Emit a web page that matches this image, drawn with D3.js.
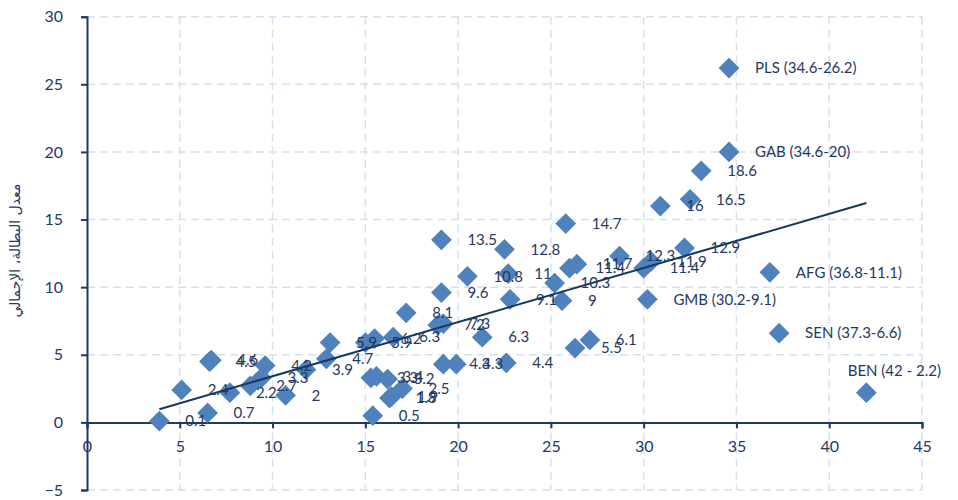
<!DOCTYPE html>
<html>
<head>
<meta charset="utf-8">
<script src="https://cdn.jsdelivr.net/npm/d3@7"></script>
<style>
  body { margin: 0; background: #fff; }
</style>
</head>
<body>
<div id="chart"></div>
<script>
// Data (x, unemployment rate y)
const xVals = [3.9, 5.1, 6.6, 6.7, 6.5, 7.7, 8.8, 9.4, 9.6, 10.7, 11.8, 12.9, 13.1, 15.0, 15.5, 16.5,
  17.2, 18.9, 19.2, 21.3, 19.2, 19.9, 22.6, 15.3, 15.6, 16.2, 17.0, 16.3, 16.4, 15.4,
  19.1, 22.5, 20.5, 22.7, 19.1, 22.8, 25.2, 25.6, 25.8, 26.0, 26.4, 28.7, 30.2, 30.0,
  30.4, 30.9, 32.5, 33.1, 32.2, 34.6, 34.6, 36.8, 37.3, 42, 26.3, 27.1];
const yVals = [0.1, 2.4, 4.5, 4.6, 0.7, 2.2, 2.7, 3.3, 4.2, 2, 3.9, 4.7, 5.9, 5.9, 6.2, 6.3,
  8.1, 7.2, 7.3, 6.3, 4.3, 4.3, 4.4, 3.3, 3.4, 3.2, 2.5, 1.8, 1.9, 0.5,
  13.5, 12.8, 10.8, 11, 9.6, 9.1, 10.3, 9, 14.7, 11.4, 11.7, 12.3, 9.1, 11.4,
  11.9, 16, 16.5, 18.6, 12.9, 20, 26.2, 11.1, 6.6, 2.2, 5.5, 6.1];
// Named outliers: index into the arrays above -> label text
const namedIdx = [42, 49, 50, 51, 52, 53];
const namedText = ["GMB (30.2-9.1)", "GAB (34.6-20)", "PLS (34.6-26.2)",
  "AFG (36.8-11.1)", "SEN (37.3-6.6)", "BEN (42 - 2.2)"];

const xTicks = [0, 5, 10, 15, 20, 25, 30, 35, 40, 45];
const yTicks = [-5, 0, 5, 10, 15, 20, 25, 30];
const yTitle = "معدل البطالة، الإجمالي";

const width = 958, height = 500;
const navy = "#1f3864";
const font = "Lato, 'Open Sans', sans-serif";

const svg = d3.select("#chart").append("svg")
    .attr("width", width)
    .attr("height", height);

const x = d3.scaleLinear().domain([0, 45]).range([87, 922]);
const y = d3.scaleLinear().domain([-5, 30]).range([490, 16.7]);

// dashed grid
svg.append("g")
    .selectAll("line")
    .data(xTicks.filter(d => d > 0))
    .enter().append("line")
    .attr("x1", d => x(d)).attr("x2", d => x(d))
    .attr("y1", y(30)).attr("y2", y(-5))
    .attr("stroke", "#d6e0ee").attr("stroke-width", 1.5)
    .attr("stroke-dasharray", "8,5");

svg.append("g")
    .selectAll("line")
    .data(yTicks.filter(d => d !== 0))
    .enter().append("line")
    .attr("x1", x(0)).attr("x2", x(45))
    .attr("y1", d => y(d)).attr("y2", d => y(d))
    .attr("stroke", "#d6e0ee").attr("stroke-width", 1.5)
    .attr("stroke-dasharray", "8,5");

// axes
const yAxis = svg.append("g")
    .attr("transform", `translate(${x(0)},0)`)
    .call(d3.axisLeft(y).tickValues(yTicks).tickSize(6).tickPadding(18));
const xAxis = svg.append("g")
    .attr("transform", `translate(0,${y(0)})`)
    .call(d3.axisBottom(x).tickValues(xTicks).tickSize(6).tickPadding(12));

[xAxis, yAxis].forEach(g => {
    g.select(".domain").attr("stroke", navy).attr("stroke-width", 2);
    g.selectAll(".tick line").attr("stroke", navy).attr("stroke-width", 2);
    g.selectAll(".tick text")
        .attr("fill", navy)
        .style("font-family", font)
        .style("font-size", "16px");
});

// y title
svg.append("text")
    .attr("transform", `translate(20,${y(12.7)}) rotate(-90)`)
    .attr("text-anchor", "middle")
    .attr("fill", navy)
    .style("font-family", "'DejaVu Sans', sans-serif")
    .style("font-size", "14px")
    .text(yTitle);

// linear trend line (least squares over all points)
const n = xVals.length;
const mx = d3.mean(xVals), my = d3.mean(yVals);
let sxy = 0, sxx = 0;
for (let i = 0; i < n; i++) {
    sxy += (xVals[i] - mx) * (yVals[i] - my);
    sxx += (xVals[i] - mx) * (xVals[i] - mx);
}
const slope = sxy / sxx, icpt = my - slope * mx;
const [xmin, xmax] = d3.extent(xVals);

// points
const pts = xVals.map((d, i) => ({ x: d, y: yVals[i], i }));

svg.append("g")
    .selectAll("path")
    .data(pts)
    .enter().append("path")
    .attr("d", d3.symbol(d3.symbolSquare, 215))
    .attr("transform", d => `translate(${x(d.x)},${y(d.y)}) rotate(45)`)
    .attr("fill", "#4f81bd");

svg.append("line")
    .attr("x1", x(xmin)).attr("y1", y(slope * xmin + icpt))
    .attr("x2", x(xmax)).attr("y2", y(slope * xmax + icpt))
    .attr("stroke", "#17375e").attr("stroke-width", 2);

// data labels: to the right of the marker, above it when near the right edge
const nearEdge = d => x(d.x) > 850;
svg.append("g")
    .selectAll("text")
    .data(pts)
    .enter().append("text")
    .attr("x", d => nearEdge(d) ? x(d.x) + 28 : x(d.x) + 26)
    .attr("y", d => nearEdge(d) ? y(d.y) - 22 : y(d.y))
    .attr("text-anchor", d => nearEdge(d) ? "middle" : "start")
    .attr("dy", "0.35em")
    .attr("fill", navy)
    .style("font-family", font)
    .style("font-size", "15px")
    .text(d => {
        const k = namedIdx.indexOf(d.i);
        return k >= 0 ? namedText[k] : d.y;
    });
</script>
</body>
</html>
